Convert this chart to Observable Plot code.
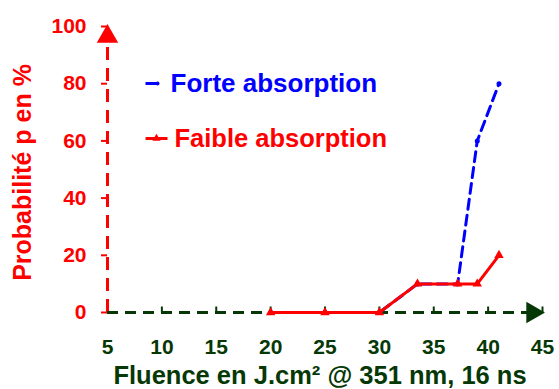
<!DOCTYPE html>
<html><head><meta charset="utf-8">
<script src="https://cdn.jsdelivr.net/npm/d3@7"></script>
<script src="https://cdn.jsdelivr.net/npm/@observablehq/plot@0.6"></script>
<style>body{margin:0;background:#fff}</style>
</head><body><div id="chart"></div>
<script>
const fluenceFaible = [20, 25, 30, 33.5, 37.2, 39, 41];
const faible = [0, 0, 0, 10, 10, 10, 20];
const fluenceForte = [20, 25, 30, 33.5, 37.2, 39, 41];
const forte = [0, 0, 0, 10, 10, 60, 80];
const xTicks = [5, 10, 15, 20, 25, 30, 35, 40, 45];
const yTicks = [0, 20, 40, 60, 80, 100];
const seriesNames = ["Forte absorption", "Faible absorption"];
const xLabel = "Fluence en J.cm² @ 351 nm, 16 ns";
const yLabel = "Probabilité p en %";

const RED = "#ff0000", BLUE = "#0000ff", GREEN = "#063806";
const faibleData = fluenceFaible.map((x, i) => ({x, y: faible[i]}));
const forteData = fluenceForte.map((x, i) => ({x, y: forte[i]}));

const upTick = {draw(ctx) { ctx.moveTo(0, 0); ctx.lineTo(0, -6); }};
const hLine = (a, b) => ({draw(ctx) { ctx.moveTo(a, 0); ctx.lineTo(b, 0); }});

const chart = Plot.plot({
  width: 559, height: 389,
  marginLeft: 107, marginRight: 17, marginTop: 26, marginBottom: 77,
  style: {fontFamily: "'Liberation Sans', Arial, sans-serif", fontWeight: "bold", background: "#fff"},
  x: {domain: [5, 45]},
  y: {domain: [0, 100]},
  marks: [
    Plot.axisY(yTicks, {tickSize: 6, tickPadding: 15, fontSize: 21, fill: RED, stroke: RED, strokeWidth: 2, label: null}),
    Plot.axisX(xTicks, {tickSize: 0, tickPadding: 27, fontSize: 21, fill: GREEN, label: null}),
    Plot.dot(xTicks.slice(1), {x: d => d, y: 0, symbol: upTick, r: 6, stroke: GREEN, strokeWidth: 2, fill: "none"}),
    Plot.ruleX([5], {y1: 0, y2: 96, stroke: RED, strokeWidth: 3, strokeDasharray: "13,8"}),
    Plot.ruleY([0], {x1: 5, x2: 44, stroke: GREEN, strokeWidth: 3, strokeDasharray: "11,7"}),
    Plot.dot([100], {x: 5, y: d => d, dy: 10, symbol: "triangle", r: 7, fill: RED, stroke: RED}),
    Plot.dot([45], {x: d => d, y: 0, dx: -10, rotate: 90, symbol: "triangle", r: 7, fill: GREEN, stroke: GREEN}),
    Plot.line(forteData, {x: "x", y: "y", stroke: BLUE, strokeWidth: 3, strokeDasharray: "10,6"}),
    Plot.dot(forteData, {x: "x", y: "y", r: 2.5, fill: BLUE}),
    Plot.line(faibleData, {x: "x", y: "y", stroke: RED, strokeWidth: 3}),
    Plot.dot(faibleData, {x: "x", y: "y", symbol: "triangle", r: 3.5, fill: RED}),
    // legend
    Plot.dot([0], {frameAnchor: "top-left", dx: 44, dy: 57, symbol: hLine(-6, 6), r: 6, stroke: BLUE, strokeWidth: 3}),
    Plot.dot([0], {frameAnchor: "top-left", dx: 50, dy: 57, r: 2, fill: BLUE}),
    Plot.text([seriesNames[0]], {frameAnchor: "top-left", dx: 63, dy: 57, text: d => d, fontSize: 26, fill: BLUE, textAnchor: "start", lineAnchor: "middle"}),
    Plot.dot([0], {frameAnchor: "top-left", dx: 49, dy: 112, symbol: hLine(-11, 11), r: 11, stroke: RED, strokeWidth: 3}),
    Plot.dot([0], {frameAnchor: "top-left", dx: 49, dy: 112, symbol: "triangle", r: 3, fill: RED}),
    Plot.text([seriesNames[1]], {frameAnchor: "top-left", dx: 67, dy: 112, text: d => d, fontSize: 25.5, fill: RED, textAnchor: "start", lineAnchor: "middle"}),
    // axis titles
    Plot.text([yLabel], {frameAnchor: "left", dx: -85, dy: 3, text: d => d, rotate: -90, fontSize: 25, fill: RED, textAnchor: "middle", lineAnchor: "middle"}),
    Plot.text([xLabel], {frameAnchor: "bottom", dy: 63, dx: -5, text: d => d, fontSize: 25.5, fill: GREEN, textAnchor: "middle", lineAnchor: "middle"})
  ]
});
document.getElementById("chart").append(chart);
</script>
</body></html>
